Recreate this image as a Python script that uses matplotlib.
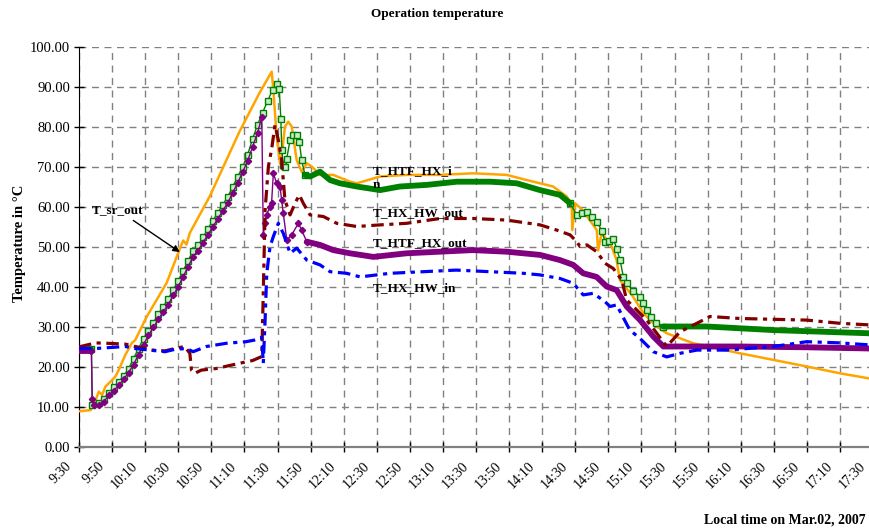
import matplotlib
matplotlib.use("Agg")
import matplotlib.pyplot as plt
import matplotlib.transforms as mtrans
import numpy as np

plt.rcParams['font.family'] = ['Liberation Serif', 'DejaVu Serif']
plt.rcParams['lines.scale_dashes'] = False

# time = minutes after 9:30, values in degC
sr_out_t = [0, 7, 10, 12, 14, 16, 20, 22, 24, 28, 32, 34, 41, 53, 61, 63, 65, 67, 79, 97, 109,
            116.5, 117.5, 119.5, 121.5, 122.5, 124.5, 126.5, 128.6, 131.6, 134.6, 137.7, 140.7,
            145.7, 153.7, 163.8, 168, 182, 198, 218, 238, 258.6, 270.7, 278.7, 286.6, 294.9,
            297.9, 298.2, 299.9, 304.7, 313, 313.8, 316, 322, 325, 327, 334.9, 341.2, 349.3,
            355.3, 371.4, 399.6, 440, 460, 478]
sr_out_T = [8.8, 9.1, 11.6, 13.7, 12.9, 15.0, 16.6, 17.5, 19.1, 22.9, 25.9, 26.6, 32.5, 40.9,
            49.5, 51.5, 50.5, 53.4, 62.5, 78.7, 88.3,
            93.7, 89.1, 77.5, 70.8, 72.5, 80.0, 81.2, 80.0, 71.6, 68.7, 70.8, 70.0,
            67.9, 67.9, 66.2, 65.8, 67.5, 67.9, 67.9, 68.3, 67.9, 66.6, 65.8, 65.0, 62.5,
            60.4, 54.1, 60.8, 59.0, 54.1, 49.0, 53.4, 50.0, 46.6, 41.6, 37.5, 33.3, 30.0,
            28.3, 25.8, 23.3, 20.0, 18.3, 17.0]

htf_in_t = [0, 7.5, 8, 12, 15, 18, 21, 24, 27, 30, 33, 36, 39, 42, 45, 48, 51, 54, 57, 60, 63,
            66, 69, 72, 75, 78, 81, 84, 87, 90, 93, 96, 99, 102, 105, 108, 111, 114, 117,
            119.5, 121.1, 122, 122.6, 123.5, 124.5, 125.6, 127.6, 129.6, 131.6, 133.2, 134.6,
            136.6, 139.7, 145.7, 151.8, 157.8, 167.9, 182, 194, 210.2, 228.4, 248.5, 264.6,
            278.7, 290.8, 296.9, 300.9, 304, 307, 310, 313, 316, 318, 320.5, 323, 325, 327.1,
            329.1, 331.1, 335, 339.2, 341, 343.2, 346, 349, 353.3, 379.5, 419.8, 478]
htf_in_T = [24.3, 24.3, 10.5, 10.8, 12.0, 13.4, 14.8, 16.2, 17.6, 19.5, 22.0, 24.5, 27.0, 29.0,
            31.0, 33.2, 35.0, 37.0, 39.2, 41.5, 44.0, 46.5, 49.0, 50.3, 52.3, 54.5, 56.5, 58.5,
            60.5, 62.5, 65.0, 67.5, 70.0, 73.0, 77.0, 80.5, 83.5, 86.3, 89.2,
            90.6, 89.3, 82.0, 74.1, 70.4, 70.0, 72.0, 76.6, 77.9, 77.9, 76.2, 71.6,
            67.9, 67.5, 68.7, 66.6, 65.8, 65.0, 64.1, 65.0, 65.4, 66.2, 66.2, 65.8,
            64.1, 62.9, 60.8, 57.9, 58.5, 58.7, 57.5, 56.2, 54.0, 51.2, 51.5, 52.0, 49.5, 46.6,
            42.4, 40.8, 39.0, 37.5, 36.0, 34.1, 32.5, 31.0, 30.0, 30.0, 29.1, 28.3]

htf_out_t = [0, 7.5, 8, 9, 12, 15, 18, 21, 24, 27, 30, 33, 36, 39, 42, 45, 48, 51, 54, 57, 60,
             63, 66, 69, 72, 75, 78, 81, 84, 87, 90, 93, 96, 99, 102, 105, 108, 110.5,
             111.4, 112.4, 113.4, 115.4, 116.4, 117.5, 119.5, 121.5, 122.5, 123.5, 125.6,
             128.6, 132.6, 134.6, 137.7, 145.7, 153.7, 163.8, 178, 198, 218, 238, 258.6,
             278.7, 290.8, 298.8, 304.8, 312.9, 319, 325, 331.1, 339.2, 347.2, 353.3, 359.3,
             400, 440, 478]
htf_out_T = [23.8, 23.8, 12.0, 10.3, 10.3, 11.2, 12.8, 14.0, 15.3, 16.8, 18.5, 20.5, 23.0, 25.5,
             27.8, 29.8, 31.8, 33.7, 35.5, 37.8, 40.0, 42.5, 45.0, 47.5, 49.0, 51.0, 53.0, 55.0,
             57.0, 59.0, 61.0, 63.5, 66.0, 68.7, 71.5, 75.0, 78.5, 82.4,
             52.9, 55.8, 57.9, 60.0, 60.8, 68.3, 65.8, 65.0, 61.6, 58.3, 51.6,
             52.9, 55.8, 54.1, 51.2, 50.4, 49.1, 48.3, 47.4, 48.3, 48.7, 49.1, 48.7,
             47.9, 46.6, 45.4, 43.3, 42.4, 40.0, 39.1, 35.0, 31.6, 27.5, 25.0, 25.0,
             25.0, 24.8, 24.5]

hw_out_t = [0, 10, 17, 28, 34, 44, 52, 58, 64, 67, 68, 70, 74, 83, 97, 105, 110.5, 111.4, 112.5,
            114.5, 116.5, 118.5, 120.5, 122.5, 124.5, 127.6, 130.6, 133.2, 135.6, 139.7, 147.7,
            155.8, 167.9, 182, 198.1, 218.3, 238.4, 258.6, 278.7, 288.8, 296.9, 300.9, 302.9,
            307, 313, 318, 323, 328.1, 331.1, 335.1, 343.2, 349.3, 355.3, 363.4, 373.5, 381.5,
            399.6, 440, 460, 478]
hw_out_T = [24.9, 25.9, 25.8, 25.6, 25.0, 24.1, 23.9, 24.5, 25.0, 23.3, 19.1, 18.3, 19.1, 19.5,
            20.8, 21.5, 22.5, 38.3, 59.1, 70.0, 74.5, 80.4, 76.6, 71.6, 61.6, 57.9, 60.8, 62.9,
            60.8, 57.9, 57.5, 55.8, 55.0, 55.4, 55.8, 57.0, 57.0, 56.6, 55.4, 54.1, 52.9, 51.2,
            50.0, 50.4, 48.7, 45.8, 44.5, 41.6, 36.6, 35.0, 31.6, 28.3, 25.0, 28.7, 30.8, 32.5,
            32.0, 31.6, 30.8, 30.4]

hw_in_t = [0, 10, 28, 34, 45, 52, 58, 65, 69, 77, 89, 101, 106, 110.5, 111.4, 112.5, 113.5,
           115.5, 117.5, 120.5, 123.5, 127.6, 131.6, 137.7, 145.7, 151.8, 161.8, 170, 188, 208,
           228, 248.5, 268.6, 278.7, 290.8, 298.8, 304.8, 310.9, 318, 321, 325, 333, 339.2,
           347.2, 355.3, 363.4, 373.5, 391.6, 419.8, 440, 460, 478]
hw_in_T = [24.5, 24.5, 25.0, 24.5, 24.0, 23.7, 24.3, 24.5, 23.7, 25.0, 25.8, 26.2, 26.6, 27.3,
           20.8, 31.6, 43.3, 50.0, 52.5, 55.8, 53.3, 48.3, 49.6, 46.6, 45.4, 43.7, 43.3, 42.4,
           43.3, 43.7, 44.1, 43.7, 43.3, 42.9, 42.0, 40.8, 37.9, 38.3, 36.2, 35.0, 35.4, 29.1,
           27.0, 23.7, 22.4, 23.3, 24.1, 24.1, 25.0, 26.2, 25.9, 25.4]

tick_labels = ['9:30', '9:50', '10:10', '10:30', '10:50', '11:10', '11:30', '11:50', '12:10',
               '12:30', '12:50', '13:10', '13:30', '13:50', '14:10', '14:30', '14:50', '15:10',
               '15:30', '15:50', '16:10', '16:30', '16:50', '17:10', '17:30']

fig = plt.figure(figsize=(8.69, 5.32), dpi=100)
ax = fig.add_axes([79 / 869, 85.5 / 532, 794 / 869, 400 / 532])

# grid
ax.set_axisbelow(True)
ax.grid(True, color='#808080', lw=1, linestyle=(0, (5, 4)))

ax.plot(sr_out_t, sr_out_T, color='#FFA500', lw=1.8, zorder=3)


def marker_line(t, v, color, marker, ms, mfc, thick_ranges, z):
    # thin line with markers where samples are spread out, thick band where they pile up
    t = np.array(t)
    v = np.array(v)
    dense = np.zeros(len(t), dtype=bool)
    for a, b in thick_ranges:
        dense |= (t >= a) & (t <= b)
    show = ~dense | (np.r_[False, ~dense[:-1]] & dense) | (np.r_[~dense[1:], False] & dense)
    ax.plot(t, v, color=color, lw=1, marker=marker, ms=ms, mfc=mfc, mec=color, mew=1,
            markevery=list(show), zorder=z)
    for a, b in thick_ranges:
        m = (t >= a) & (t <= b)
        ax.plot(t[m], v[m], color=color, lw=4.2, solid_capstyle='round', zorder=z)


marker_line(htf_in_t, htf_in_T, '#008000', 's', 4, '#c8ecc8',
            [(0, 7.5), (136, 298), (352, 480)], 4)
marker_line(htf_out_t, htf_out_T, '#800080', 'D', 3.2, '#800080',
            [(0, 7.5), (137, 480)], 5)

ax.plot(hw_out_t, hw_out_T, color='#800000', lw=2.3, linestyle=(0, (9, 4, 3, 4)), zorder=6)
ax.plot(hw_in_t, hw_in_T, color='#0000FF', lw=2.3, linestyle=(0, (9, 4, 3, 4)), zorder=7)

# labels for the lines
lab = dict(fontsize=9.5, fontweight='bold', ha='left', va='center', zorder=8)
ax.text(177.7, 67.1, 'T_HTF_HX_i\nn', linespacing=1.15, **lab)
ax.text(177.7, 58.4, 'T_HX_HW_out', **lab)
ax.text(177.7, 50.8, 'T_HTF_HX_out', **lab)
ax.text(177.7, 39.5, 'T_HX_HW_in', **lab)
ax.annotate('T_sr_out', xy=(61, 48.6), xytext=(23.6, 59.1), fontsize=9.5, fontweight='bold',
            ha='center', va='center',
            arrowprops=dict(arrowstyle='-|>', color='black', lw=1, shrinkA=2, shrinkB=0,
                            mutation_scale=10))

ax.set_xlim(0, 480)
ax.set_ylim(0, 100)
ax.set_xticks(np.arange(0, 481, 20))
ax.set_xticklabels(tick_labels, rotation=45, ha='right', fontsize=10)
ax.set_yticks(np.arange(0, 101, 10))
ax.set_yticklabels(['%.2f' % v for v in np.arange(0, 101, 10)], fontsize=10.5)
ax.tick_params(axis='both', direction='inout', length=7, width=1, colors='black', pad=3)
ax.tick_params(axis='x', pad=6)

# labels sit a little left of their ticks, as in the original
shift = mtrans.ScaledTranslation(-5 / 100, 0, fig.dpi_scale_trans)
for tick in ax.xaxis.get_major_ticks():
    tick.label1.set_transform(tick.label1.get_transform() + shift)

for s in ['top', 'right']:
    ax.spines[s].set_visible(False)
ax.spines['left'].set_color('black')
ax.spines['bottom'].set_color('#808080')
ax.spines['bottom'].set_linewidth(1.6)

fig.text(437 / 869, 1 - 14 / 532, 'Operation temperature', ha='center', va='center',
         fontsize=9.5, fontweight='bold')
fig.text(20 / 869, 1 - 243 / 532, 'Temperature in °C', ha='center', va='center',
         rotation=90, fontsize=10.5, fontweight='bold')
fig.text(866 / 869, 1 - 520 / 532, 'Local time on Mar.02, 2007', ha='right', va='center',
         fontsize=10, fontweight='bold')

fig.savefig('out.png', dpi=100)
